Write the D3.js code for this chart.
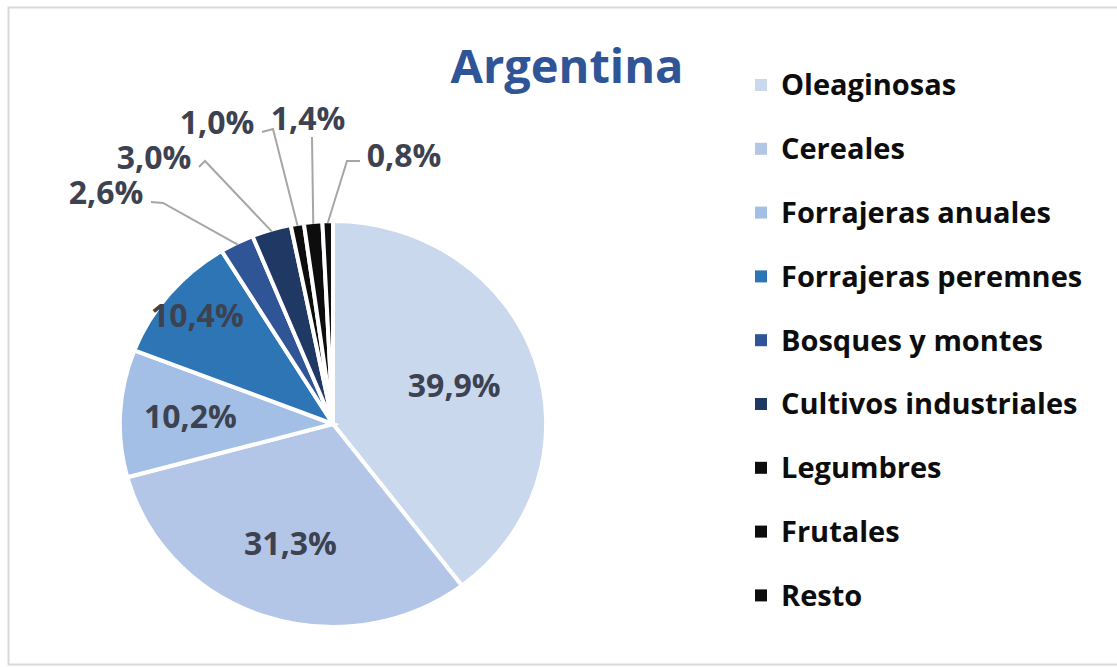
<!DOCTYPE html>
<html>
<head>
<meta charset="utf-8">
<script src="https://cdn.jsdelivr.net/npm/d3@7"></script>
<style>
  body { margin: 0; background: #fff; }
  text { font-family: "Open Sans", sans-serif; font-weight: 700; }
</style>
</head>
<body>
<svg id="chart" width="1117" height="667"></svg>
<script>
// data
const categories = ['Oleaginosas', 'Cereales', 'Forrajeras anuales', 'Forrajeras peremnes',
  'Bosques y montes', 'Cultivos industriales', 'Legumbres', 'Frutales', 'Resto'];
const shares = [39.9, 31.3, 10.2, 10.4, 2.6, 3.0, 1.0, 1.4, 0.8];
const colors = ['#c9d8ed', '#b3c6e7', '#a3bfe5', '#2e75b6', '#2f5597', '#203864', '#0d0d0d', '#0d0d0d', '#0d0d0d'];
const title = 'Argentina';

const svg = d3.select('#chart');

// frame
svg.append('rect')
  .attr('x', 8.5).attr('y', 7.5)
  .attr('width', 1120).attr('height', 657)
  .attr('fill', 'none')
  .attr('stroke', '#d9d9d9')
  .attr('stroke-width', 2);

svg.append('text')
  .attr('x', 567).attr('y', 83)
  .attr('text-anchor', 'middle')
  .attr('font-size', 47)
  .attr('fill', '#2f5597')
  .text(title);

// pie (picture is a bit wider than tall)
const cx = 333, cy = 424, r = 203, sx = 1.05;
const fmt = v => d3.format('.1f')(v).replace('.', ',') + '%';

const pie = d3.pie().sort(null).value(d => d)(shares);
const arc = d3.arc().innerRadius(0).outerRadius(r);

const g = svg.append('g').attr('transform', `translate(${cx},${cy})`);

g.append('g')
  .attr('transform', `scale(${sx},1)`)
  .selectAll('path')
  .data(pie)
  .join('path')
  .attr('d', arc)
  .attr('fill', (d, i) => colors[i])
  .attr('stroke', '#fff')
  .attr('stroke-width', 4)
  .attr('vector-effect', 'non-scaling-stroke');

// point on the ellipse at angle a and radius rr
const polar = (a, rr) => [Math.sin(a) * rr * sx, -Math.cos(a) * rr];

// inside labels (big slices)
const inside = pie.slice(0, 4);
const labelK = [0.6, 0.62, 0.67, 0.83];
g.selectAll('text.inside')
  .data(inside)
  .join('text')
  .attr('class', 'inside')
  .attr('x', (d, i) => polar((d.startAngle + d.endAngle) / 2, r * labelK[i])[0])
  .attr('y', (d, i) => polar((d.startAngle + d.endAngle) / 2, r * labelK[i])[1])
  .attr('dy', '0.36em')
  .attr('text-anchor', 'middle')
  .attr('font-size', 32)
  .attr('fill', '#3d4250')
  .text(d => fmt(d.data));

// callouts for small slices: label centre and elbow, relative to pie centre
const callouts = [
  { lx: -227, ly: -232, ex: -170, ey: -221 },
  { lx: -179, ly: -267, ex: -128, ey: -263 },
  { lx: -116, ly: -302, ex: -60, ey: -295 },
  { lx: -25, ly: -306, ex: -21, ey: -287 },
  { lx: 71, ly: -269, ex: 14, ey: -263 }
];
const small = pie.slice(4);
small.forEach((d, i) => {
  const c = callouts[i];
  const p = polar((d.startAngle + d.endAngle) / 2, r - 2);
  let start;
  if (i === 3) start = [c.lx + 4, c.ly + 19];
  else if (i === 4) start = [c.lx - 44, c.ly + 6];
  else start = [c.lx + 45, c.ly + 10];
  g.append('path')
    .attr('d', d3.line()([start, [c.ex, c.ey], p]))
    .attr('fill', 'none')
    .attr('stroke', '#a6a6a6')
    .attr('stroke-width', 2);
  g.append('text')
    .attr('x', c.lx).attr('y', c.ly)
    .attr('dy', '0.36em')
    .attr('text-anchor', 'middle')
    .attr('font-size', 32)
    .attr('fill', '#3d4250')
    .text(fmt(d.data));
});

// legend
const legend = svg.append('g').attr('transform', 'translate(755,85)');
const rows = legend.selectAll('g')
  .data(categories)
  .join('g')
  .attr('transform', (d, i) => `translate(0,${i * 63.8})`);
rows.append('rect')
  .attr('x', 0).attr('y', -6)
  .attr('width', 12).attr('height', 12)
  .attr('fill', (d, i) => colors[i]);
rows.append('text')
  .attr('x', 26).attr('y', 0)
  .attr('dy', '0.36em')
  .attr('font-size', 29)
  .attr('fill', '#0d0d0d')
  .text(d => d);
</script>
</body>
</html>
